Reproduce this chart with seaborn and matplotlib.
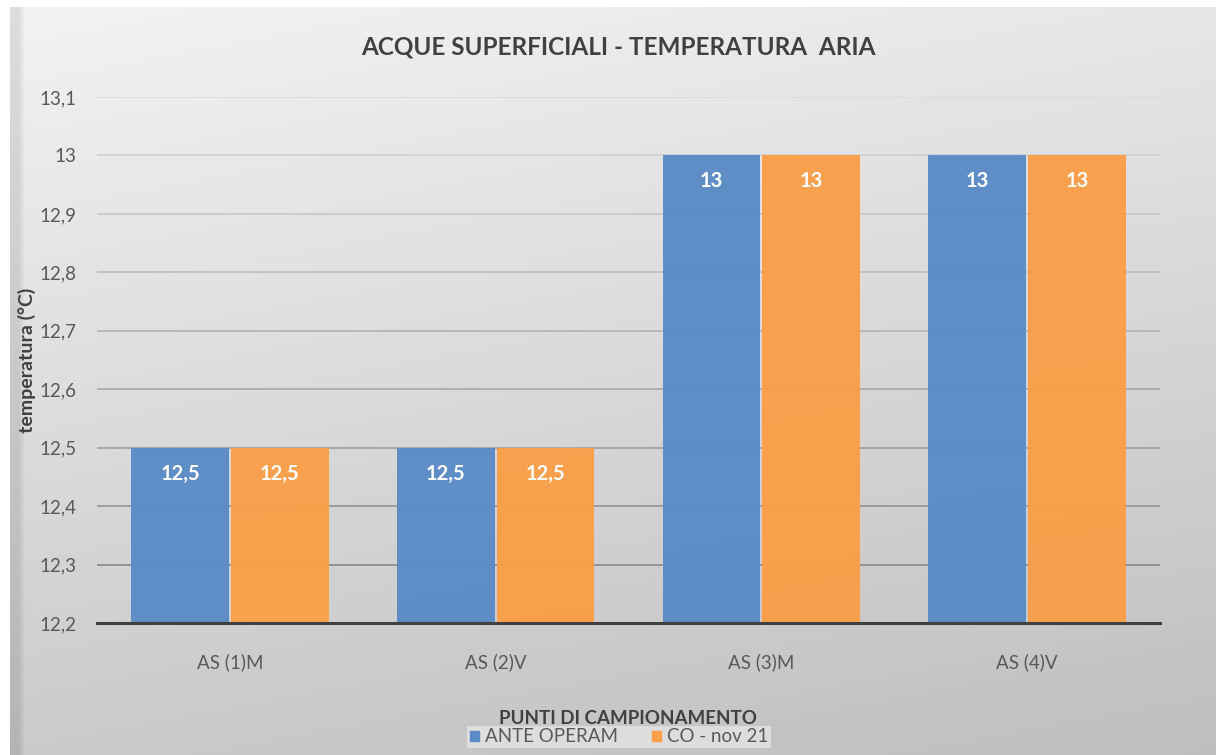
import numpy as np
import pandas as pd
import seaborn as sns
import matplotlib.pyplot as plt
import matplotlib.colors as mcolors

# data
categories = ["AS (1)M", "AS (2)V", "AS (3)M", "AS (4)V"]
series_names = ["ANTE OPERAM", "CO - nov 21"]
ante_operam = [12.5, 12.5, 13.0, 13.0]
co_nov21 = [12.5, 12.5, 13.0, 13.0]
y_ticks = [12.2, 12.3, 12.4, 12.5, 12.6, 12.7, 12.8, 12.9, 13.0, 13.1]
bar_colors = ["#5A8BC6", "#FA9E47"]

df = pd.DataFrame({
    "punto": categories * 2,
    "serie": [series_names[0]] * 4 + [series_names[1]] * 4,
    "valore": ante_operam + co_nov21,
})

sns.set_theme(style="white")
plt.rcParams["font.family"] = ["Lato", "DejaVu Sans"]

fig = plt.figure(figsize=(12.16, 7.55), dpi=100)
fig.patch.set_facecolor("white")

### Background gradient panel (Excel style)
bg = fig.add_axes([10 / 1216, 0, 1 - 10 / 1216, 748 / 755], zorder=-10)
yy, xx = np.mgrid[0:1:200j, 0:1:200j]
shade = 242 - 40 * yy - 12 * xx
shade[:, :2] -= 22
bg.imshow(shade, cmap="gray", vmin=0, vmax=255, aspect="auto",
          extent=[0, 1, 0, 1], interpolation="bilinear")
bg.set_axis_off()

### Main axes
ax = fig.add_axes([97 / 1216, 1 - 623 / 755, 1063 / 1216, 526 / 755])
ax.set_facecolor("none")

# gridlines, lighter toward the top
grid_cmap = mcolors.LinearSegmentedColormap.from_list("g", ["#8a8a8a", "#dadada"])
for i, t in enumerate(y_ticks[1:]):
    ax.axhline(t, color=grid_cmap(i / (len(y_ticks) - 2)), linewidth=1.2, zorder=0)

sns.barplot(data=df, x="punto", y="valore", hue="serie", palette=bar_colors,
            saturation=1, width=0.75, gap=0.02, ax=ax, zorder=2, alpha=0.96,
            linewidth=0, legend=True)

ax.set_ylim(12.2, 13.1)
ax.set_yticks(y_ticks)
ax.set_yticklabels([f"{t:.1f}".replace(".", ",").replace(",0", "") for t in y_ticks])
ax.tick_params(axis="y", length=0, pad=15, labelsize=13.5, labelcolor="#595959")
ax.tick_params(axis="x", length=0, pad=22, labelsize=13.5, labelcolor="#595959")

for s in ["top", "right", "left"]:
    ax.spines[s].set_visible(False)
ax.spines["bottom"].set_color("#404040")
ax.spines["bottom"].set_linewidth(2.2)
ax.spines["bottom"].set_zorder(5)

# data labels inside top of bars
for p in ax.patches:
    h = p.get_height()
    if p.get_width() == 0 or np.isnan(h):
        continue
    txt = f"{h:g}".replace(".", ",")
    ax.annotate(txt, (p.get_x() + p.get_width() / 2, h), xytext=(0, -26),
                textcoords="offset pixels", ha="center", va="center",
                color="white", fontsize=14.5, fontweight="bold", zorder=6)

ax.set_xlabel("")
ax.set_ylabel("")

fig.text(618 / 1216, 1 - 47 / 755, "ACQUE SUPERFICIALI - TEMPERATURA  ARIA",
         ha="center", va="center", fontsize=17.5, fontweight="bold", color="#404040")
fig.text(27 / 1216, 1 - 360 / 755, "temperatura (°C)", rotation=90,
         ha="center", va="center", fontsize=14, fontweight="bold", color="#404040")
fig.text(628 / 1216, 1 - 718 / 755, "PUNTI DI CAMPIONAMENTO",
         ha="center", va="center", fontsize=13.5, fontweight="bold", color="#404040")

# legend at the bottom
ax.legend_.remove()
handles = [plt.Rectangle((0, 0), 1, 1, color=c) for c in bar_colors]
leg = fig.legend(handles, series_names, loc="center", bbox_to_anchor=(619 / 1216, 1 - 737 / 755),
                 ncol=2, frameon=True, fontsize=13.5, handlelength=0.5, handleheight=0.5,
                 handletextpad=0.3, columnspacing=1.8, borderpad=0.15)
leg.get_frame().set_facecolor("#e4e4e4")
leg.get_frame().set_edgecolor("none")
leg.get_frame().set_alpha(0.8)
leg.get_frame().set_boxstyle("square", pad=0)
for t in leg.get_texts():
    t.set_color("#595959")

plt.savefig("out.png", dpi=100)
